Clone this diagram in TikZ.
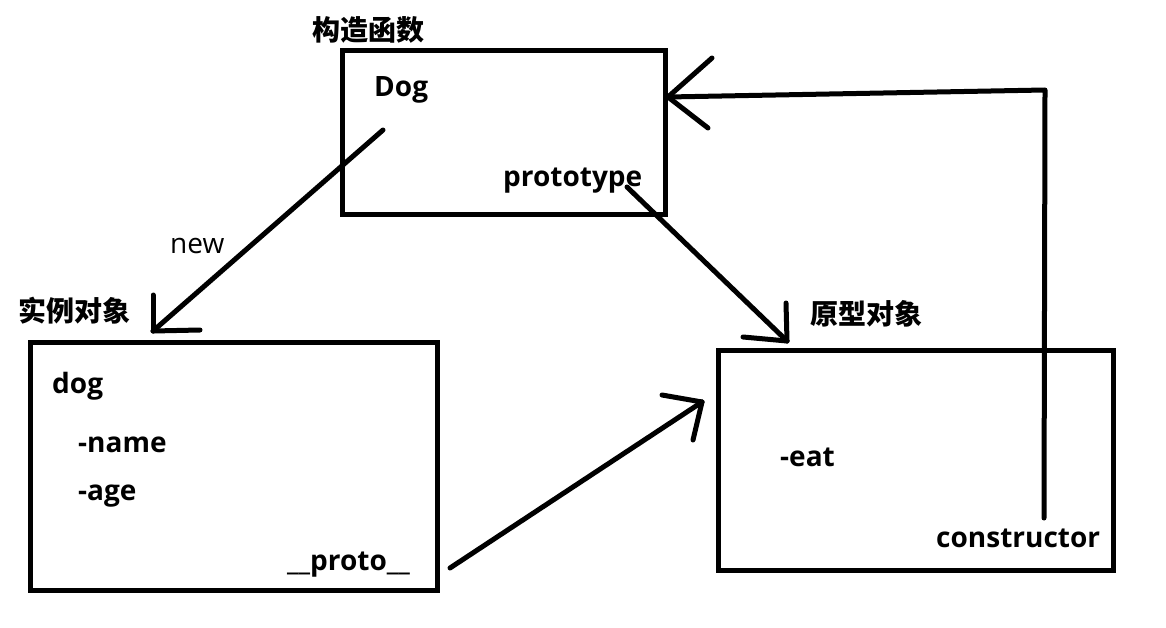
\documentclass[tikz,border=0pt]{standalone}
\usepackage{fontspec}
\setmainfont{Open Sans}
\newfontfamily\cjk{Noto Sans CJK SC}
\begin{document}
\begin{tikzpicture}[x=1pt,y=-1pt,
  lbl/.style={anchor=base west, inner sep=0pt, font=\fontsize{28}{30}\selectfont\bfseries},
  plain/.style={anchor=base west, inner sep=0pt, font=\fontsize{28}{30}\selectfont},
  cn/.style={anchor=base west, inner sep=0pt, font=\cjk\fontsize{28}{30}\selectfont\bfseries},
  objbox/.style={draw, line width=5pt, rectangle, inner sep=0pt},
  conn/.style={line width=5pt, line cap=round, line join=round}]
\useasboundingbox (0,0) rectangle (1166,628);

% boxes
\node[objbox, minimum width=323pt, minimum height=164pt] (ctorbox) at (503.5,133) {};
\node[objbox, minimum width=407pt, minimum height=248pt] (instbox) at (233.5,466) {};
\node[objbox, minimum width=395pt, minimum height=220pt] (protobox) at (915.5,460) {};

% titles
\node[cn] (ctortitle) at (312,41) {构造函数};
\node[cn] (insttitle) at (18,321) {实例对象};
\node[cn] (prototitle) at (810,324) {原型对象};

% texts
\node[lbl] (dog) at (374,97) {Dog};
\node[lbl] (prototype) at (503,187) {prototype};
\node[plain] (new) at (170,253) {new};
\node[lbl] (inst) at (52,393) {dog};
\node[lbl] (name) at (78,452) {-name};
\node[lbl] (age) at (78,500) {-age};
\node[lbl] (proto) at (287,570) {\_\_proto\_\_};
\node[lbl] (eat) at (780,466) {-eat};
\node[lbl] (constructor) at (936,547) {constructor};

% connector points
\coordinate (newstart) at (383,130);
\coordinate (newtip) at (153,331);
\coordinate (ptstart) at (627,187);
\coordinate (pttip) at (787,341);
\coordinate (prstart) at (450,568);
\coordinate (prtip) at (702,402);
\coordinate (cstart) at (1044,518);
\coordinate (ccorner) at (1045,90);
\coordinate (ctip) at (668,97);

% new
\draw[conn] (newstart) -- (newtip);
\draw[conn] (newtip) -- ++(0,-36);
\draw[conn] (newtip) -- ++(47,-1);
% prototype -> prototype object
\draw[conn] (ptstart) -- (pttip);
\draw[conn] (pttip) -- ++(-1,-38);
\draw[conn] (pttip) -- ++(-44,-4);
% __proto__ -> prototype object
\draw[conn] (prstart) -- (prtip);
\draw[conn] (prtip) -- ++(-40,-7);
\draw[conn] (prtip) -- ++(-9,38);
% constructor -> Dog
\draw[conn] (cstart) -- (ccorner) -- (ctip);
\draw[conn] (ctip) -- ++(44,-39);
\draw[conn] (ctip) -- ++(40,31);
\end{tikzpicture}
\end{document}
